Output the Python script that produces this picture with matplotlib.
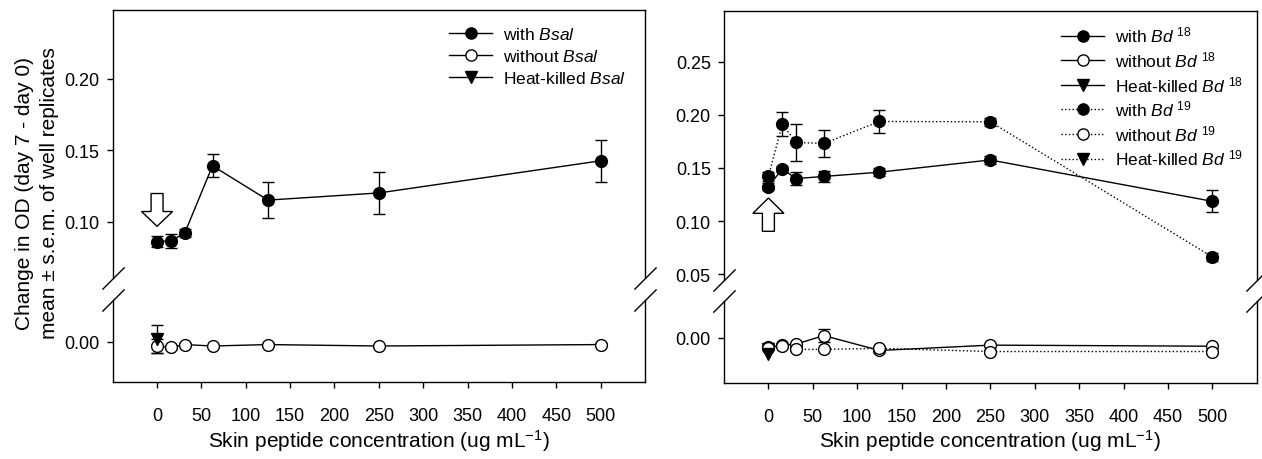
import numpy as np
import matplotlib.pyplot as plt
from matplotlib.patches import FancyArrow

plt.rcParams['font.family'] = 'Liberation Sans'
plt.rcParams['mathtext.fontset'] = 'custom'
plt.rcParams['mathtext.rm'] = 'Liberation Sans'
plt.rcParams['mathtext.it'] = 'Liberation Sans:italic'

# data
conc = [0, 15.6, 31.25, 62.5, 125, 250, 500]

# left panel (Bsal)
with_bsal = [0.086, 0.0865, 0.092, 0.139, 0.115, 0.120, 0.1425]
with_bsal_err = [0.004, 0.005, 0.003, 0.008, 0.0127, 0.0148, 0.0147]
without_bsal = [-0.003, -0.004, -0.002, -0.003, -0.002, -0.003, -0.002]
without_bsal_err = [0.005, 0.001, 0.001, 0.001, 0.001, 0.001, 0.001]
hk_bsal = [0.002]
hk_bsal_err = [0.010]

# right panel (Bd 18 / Bd 19)
with_bd18 = [0.1325, 0.149, 0.140, 0.142, 0.146, 0.1575, 0.1186]
with_bd18_err = [0.003, 0.003, 0.006, 0.0055, 0.004, 0.004, 0.0103]
with_bd19 = [0.142, 0.191, 0.174, 0.173, 0.1937, 0.1934, 0.0663]
with_bd19_err = [0.004, 0.0113, 0.0175, 0.013, 0.0105, 0.004, 0.004]
without_bd18 = [-0.009, -0.007, -0.006, 0.002, -0.012, -0.007, -0.008]
without_bd18_err = [0.002, 0.001, 0.001, 0.006, 0.001, 0.001, 0.001]
without_bd19 = [-0.010, -0.008, -0.011, -0.011, -0.010, -0.013, -0.013]
without_bd19_err = [0.001, 0.001, 0.001, 0.001, 0.001, 0.001, 0.001]
hk_bd18 = [-0.011]
hk_bd19 = [-0.015]

xticks = [0, 50, 100, 150, 200, 250, 300, 350, 400, 450, 500]

W, H = 1262, 460
fig = plt.figure(figsize=(W / 100, H / 100), dpi=100)


def px_axes(x0, x1, top, bottom):
    return fig.add_axes([x0 / W, 1 - bottom / H, (x1 - x0) / W, (bottom - top) / H])


def style_pair(up, lo, up_lim, lo_lim, up_ticks, lo_ticks):
    up.set_ylim(*up_lim)
    lo.set_ylim(*lo_lim)
    for a in (up, lo):
        a.set_xlim(-50, 550)
        for s in a.spines.values():
            s.set_linewidth(1.0)
    up.spines['bottom'].set_visible(False)
    lo.spines['top'].set_visible(False)
    up.set_yticks(up_ticks)
    lo.set_yticks(lo_ticks)
    up.set_xticks([])
    lo.set_xticks(xticks)
    for a in (up, lo):
        a.tick_params(axis='y', direction='out', length=4.5, width=1, labelsize=13, pad=5)
        a.yaxis.set_major_formatter(plt.FormatStrFormatter('%.2f'))
    lo.tick_params(axis='x', direction='out', length=4, width=1, labelsize=13, pad=14)
    # break marks
    kw = dict(marker=[(-1, -1), (1, 1)], markersize=16, linestyle='none',
              color='k', mec='k', mew=1, clip_on=False)
    up.plot([0, 1], [0, 0], transform=up.transAxes, **kw)
    lo.plot([0, 1], [1, 1], transform=lo.transAxes, **kw)


ms = 8.5
cap = 4.5
elw = 1.0

# ---------------- left panel ----------------
axu = px_axes(112.7, 645, 11, 279)
axl = px_axes(112.7, 645, 301, 383)
style_pair(axu, axl, (0.0605, 0.248), (-0.0282, 0.0292), [0.10, 0.15, 0.20], [0.00])

for a in (axu, axl):
    a.errorbar(conc, with_bsal, yerr=with_bsal_err, fmt='-o', color='k', mfc='k', ms=ms,
               lw=1, elinewidth=elw, capsize=cap, capthick=1, label='with $\\it{Bsal}$')
    a.errorbar(conc, without_bsal, yerr=without_bsal_err, fmt='-o', color='k', mfc='white', ms=ms,
               lw=1, elinewidth=elw, capsize=cap, capthick=1, label='without $\\it{Bsal}$')
    a.errorbar([0], hk_bsal, yerr=hk_bsal_err, fmt='-v', color='k', mfc='k', ms=ms,
               lw=1, elinewidth=elw, capsize=cap, capthick=1, label='Heat-killed $\\it{Bsal}$')

axu.add_patch(FancyArrow(0, 0.1196, 0, -0.0229, width=13.5, head_width=35, head_length=0.0103,
                         length_includes_head=True, fc='white', ec='k', lw=1))

h, l = axu.get_legend_handles_labels()
h = [x[0] for x in h]
axu.legend(h, l, loc='upper right', bbox_to_anchor=(0.995, 1.0), frameon=False, fontsize=12.5,
           handlelength=2.5, handletextpad=0.6, labelspacing=0.32, borderaxespad=0.55,
           markerscale=0.95)

fig.text(25 / W, 1 - 193 / H, 'Change in OD (day 7 - day 0)', rotation=90,
         ha='center', va='center', fontsize=15)
fig.text(50 / W, 1 - 193 / H, 'mean \u00b1 s.e.m. of well replicates', rotation=90,
         ha='center', va='center', fontsize=15)
fig.text((112.7 + 645) / 2 / W, 1 - 441 / H, 'Skin peptide concentration (ug mL$^{-1}$)',
         ha='center', va='center', fontsize=15)

# ---------------- right panel ----------------
bxu = px_axes(724, 1256.7, 12, 281)
bxl = px_axes(724, 1256.7, 302, 384)
style_pair(bxu, bxl, (0.0446, 0.2976), (-0.0426, 0.0345), [0.05, 0.10, 0.15, 0.20, 0.25], [0.00])

for a in (bxu, bxl):
    a.errorbar(conc, with_bd18, yerr=with_bd18_err, fmt='-o', color='k', mfc='k', ms=ms,
               lw=1, elinewidth=elw, capsize=cap, capthick=1, label='with $\\it{Bd}$ $^{18}$')
    a.errorbar(conc, without_bd18, yerr=without_bd18_err, fmt='-o', color='k', mfc='white', ms=ms,
               lw=1, elinewidth=elw, capsize=cap, capthick=1, label='without $\\it{Bd}$ $^{18}$')
    a.errorbar([0], hk_bd18, fmt='-v', color='k', mfc='k', ms=ms,
               lw=1, label='Heat-killed $\\it{Bd}$ $^{18}$')
    a.errorbar(conc, with_bd19, yerr=with_bd19_err, fmt=':o', color='k', mfc='k', ms=ms,
               lw=1, elinewidth=elw, capsize=cap, capthick=1, label='with $\\it{Bd}$ $^{19}$')
    a.errorbar(conc, without_bd19, yerr=without_bd19_err, fmt=':o', color='k', mfc='white', ms=ms,
               lw=1, elinewidth=elw, capsize=cap, capthick=1, label='without $\\it{Bd}$ $^{19}$')
    a.errorbar([0], hk_bd19, fmt=':v', color='k', mfc='k', ms=ms,
               lw=1, label='Heat-killed $\\it{Bd}$ $^{19}$')

bxu.add_patch(FancyArrow(0, 0.0904, 0, 0.0313, width=13.5, head_width=35, head_length=0.0144,
                         length_includes_head=True, fc='white', ec='k', lw=1))

h, l = bxu.get_legend_handles_labels()
h = [x[0] for x in h]
bxu.legend(h, l, loc='upper right', bbox_to_anchor=(1.0, 1.0), frameon=False, fontsize=12.5,
           handlelength=2.5, handletextpad=0.6, labelspacing=0.27, borderaxespad=0.4,
           markerscale=0.95)

fig.text((724 + 1256.7) / 2 / W, 1 - 441 / H, 'Skin peptide concentration (ug mL$^{-1}$)',
         ha='center', va='center', fontsize=15)

fig.savefig('out.png', dpi=100)
